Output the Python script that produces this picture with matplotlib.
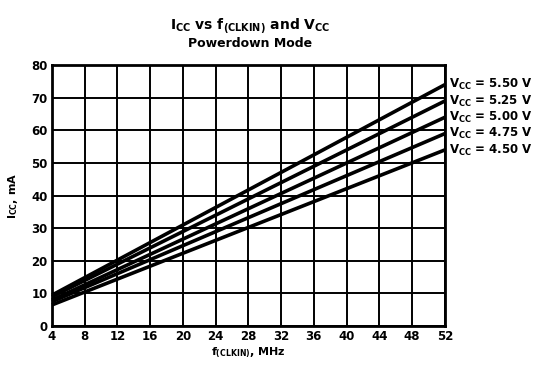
import matplotlib
matplotlib.use("Agg")
import matplotlib.pyplot as plt

plt.rcParams['font.family'] = ['DejaVu Sans']
plt.rcParams['font.weight'] = 'bold'
plt.rcParams['mathtext.fontset'] = 'dejavusans'
plt.rcParams['mathtext.default'] = 'bf'

freq = [4, 52]
vcc_labels = ["5.50", "5.25", "5.00", "4.75", "4.50"]
icc_series = [
    [9.5, 74.0],
    [9.0, 69.0],
    [8.0, 64.0],
    [7.5, 59.0],
    [6.5, 54.0],
]
x_ticks = [4, 8, 12, 16, 20, 24, 28, 32, 36, 40, 44, 48, 52]
y_ticks = [0, 10, 20, 30, 40, 50, 60, 70, 80]

fig = plt.figure(figsize=(5.38, 3.66), dpi=100)
ax = fig.add_axes([0.0967, 0.109, 0.730, 0.713])

for vals, lab in zip(icc_series, vcc_labels):
    ax.plot(freq, vals, color='black', lw=2.6, solid_capstyle='butt', clip_on=False, zorder=3)
    ax.annotate(r"$V_{CC}$ = " + lab + " V", xy=(freq[-1], vals[-1]), xytext=(3, 0),
                textcoords='offset points', va='center', ha='left', fontsize=8.5,
                fontweight='bold', annotation_clip=False)

ax.set_xlim(4, 52)
ax.set_ylim(0, 80)
ax.set_xticks(x_ticks)
ax.set_yticks(y_ticks)
ax.grid(True, color='black', lw=1.4)
ax.set_axisbelow(True)
for s in ax.spines.values():
    s.set_linewidth(2)
ax.tick_params(length=0, labelsize=8.5, pad=3)
for t in ax.get_xticklabels() + ax.get_yticklabels():
    t.set_fontweight('bold')

ax.set_xlabel(r"$f_{(CLKIN)}$, MHz", fontsize=8, fontweight='bold', labelpad=2)
ax.set_ylabel(r"$I_{CC}$, mA", fontsize=8, fontweight='bold', labelpad=8)

fig.text(0.465, 0.93, r"$I_{CC}$ vs $f_{(CLKIN)}$ and $V_{CC}$", ha='center', va='center', fontsize=10)
fig.text(0.465, 0.88, "Powerdown Mode", ha='center', va='center', fontsize=9, fontweight='bold')

fig.savefig("out.png", dpi=100)
